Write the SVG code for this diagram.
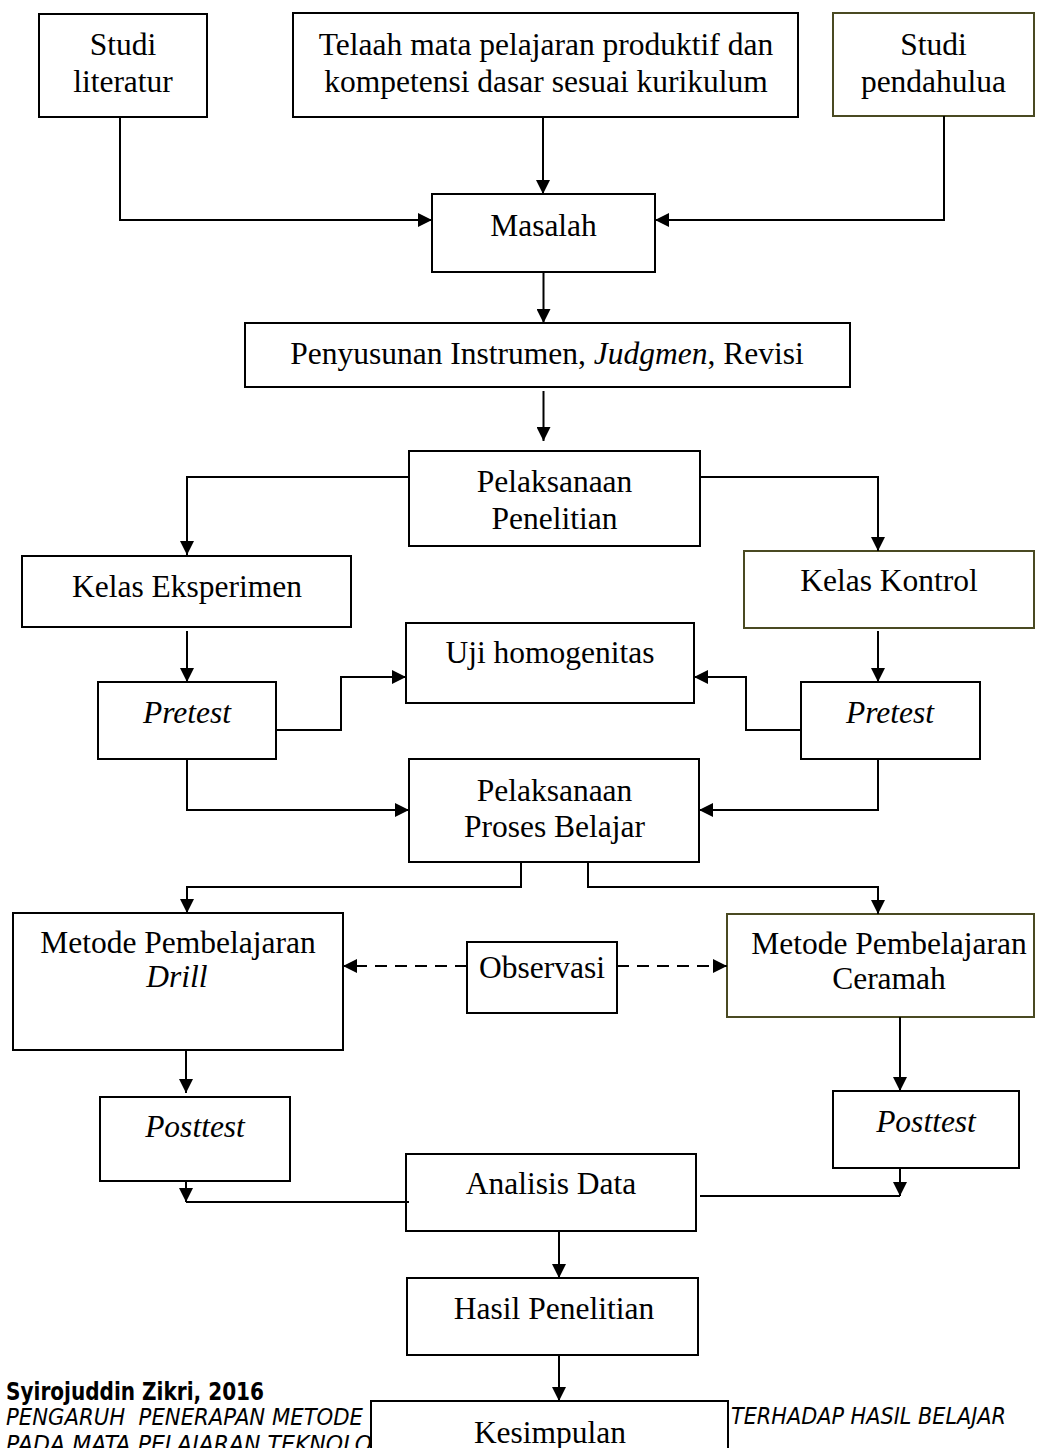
<svg xmlns="http://www.w3.org/2000/svg" width="1038" height="1448" viewBox="0 0 1038 1448">
<style>
.b{fill:#fff;stroke:#000;stroke-width:2}
.o{fill:#fff;stroke:#4a4a22;stroke-width:2}
.t{font-family:"Liberation Serif","Times New Roman",serif;font-size:31.5px;fill:#000;text-anchor:middle}
.i{font-style:italic}
.c{fill:none;stroke:#000;stroke-width:2}
.d{fill:none;stroke:#000;stroke-width:2;stroke-dasharray:12 8}
.f{font-family:"Liberation Sans Narrow","DejaVu Sans Condensed","DejaVu Sans",sans-serif;fill:#000}
</style>
<defs>
<marker id="ah" viewBox="0 0 14 14" refX="14" refY="7" markerWidth="14" markerHeight="14" markerUnits="userSpaceOnUse" orient="auto">
<path d="M0,0 L14,7 L0,14 z" fill="#000"/>
</marker>
</defs>

<g id="footer">
<text class="f" x="6" y="1400" font-size="25" font-weight="bold" textLength="258" lengthAdjust="spacingAndGlyphs">Syirojuddin Zikri, 2016</text>
<text class="f" x="6" y="1425" font-size="23" font-style="italic" xml:space="preserve" textLength="357" lengthAdjust="spacingAndGlyphs">PENGARUH  PENERAPAN METODE</text>
<text class="f" x="6" y="1452" font-size="23" font-style="italic" textLength="366" lengthAdjust="spacingAndGlyphs">PADA MATA PELAJARAN TEKNOLO</text>
<text class="f" x="731" y="1424" font-size="23" font-style="italic" textLength="275" lengthAdjust="spacingAndGlyphs">TERHADAP HASIL BELAJAR</text>
</g>

<g id="studi-literatur">
<rect class="b" x="39" y="14" width="168" height="103"/>
<text class="t" x="123" y="55">Studi</text>
<text class="t" x="123" y="92">literatur</text>
</g>
<g id="telaah">
<rect class="b" x="293" y="13" width="505" height="104"/>
<text class="t" x="546" y="55">Telaah mata pelajaran produktif dan</text>
<text class="t" x="546" y="92">kompetensi dasar sesuai kurikulum</text>
</g>
<g id="studi-pendahulua">
<rect class="o" x="833" y="13" width="201" height="103"/>
<text class="t" x="933.5" y="55">Studi</text>
<text class="t" x="933.5" y="92">pendahulua</text>
</g>
<g id="masalah">
<rect class="b" x="432" y="194" width="223" height="78"/>
<text class="t" x="543.5" y="236">Masalah</text>
</g>
<g id="penyusunan">
<rect class="b" x="245" y="323" width="605" height="64"/>
<text class="t" x="547" y="364">Penyusunan Instrumen, <tspan class="i">Judgmen</tspan>, Revisi</text>
</g>
<g id="pelaksanaan-penelitian">
<rect class="b" x="409" y="451" width="291" height="95"/>
<text class="t" x="554.5" y="492">Pelaksanaan</text>
<text class="t" x="554.5" y="529">Penelitian</text>
</g>
<g id="kelas-eksperimen">
<rect class="b" x="22" y="556" width="329" height="71"/>
<text class="t" x="187" y="597">Kelas Eksperimen</text>
</g>
<g id="kelas-kontrol">
<rect class="o" x="744" y="551" width="290" height="77"/>
<text class="t" x="889" y="591">Kelas Kontrol</text>
</g>
<g id="uji-homogenitas">
<rect class="b" x="406" y="623" width="288" height="80"/>
<text class="t" x="550" y="663">Uji homogenitas</text>
</g>
<g id="pretest-eksperimen">
<rect class="b" x="98" y="682" width="178" height="77"/>
<text class="t i" x="187" y="723">Pretest</text>
</g>
<g id="pretest-kontrol">
<rect class="b" x="801" y="682" width="179" height="77"/>
<text class="t i" x="890" y="723">Pretest</text>
</g>
<g id="pelaksanaan-proses">
<rect class="b" x="409" y="759" width="290" height="103"/>
<text class="t" x="554.5" y="801">Pelaksanaan</text>
<text class="t" x="554.5" y="837">Proses Belajar</text>
</g>
<g id="metode-drill">
<rect class="b" x="13" y="913" width="330" height="137"/>
<text class="t" x="178" y="953">Metode Pembelajaran</text>
<text class="t i" x="177" y="987">Drill</text>
</g>
<g id="observasi">
<rect class="b" x="467" y="942" width="150" height="71"/>
<text class="t" x="542" y="978" font-size="26">Observasi</text>
</g>
<g id="metode-ceramah">
<rect class="o" x="727" y="914" width="307" height="103"/>
<text class="t" x="889" y="954" font-size="29.5">Metode Pembelajaran</text>
<text class="t" x="889" y="989" font-size="29.5">Ceramah</text>
</g>
<g id="posttest-eksperimen">
<rect class="b" x="100" y="1097" width="190" height="84"/>
<text class="t i" x="195" y="1137">Posttest</text>
</g>
<g id="posttest-kontrol">
<rect class="b" x="833" y="1091" width="186" height="77"/>
<text class="t i" x="926" y="1132">Posttest</text>
</g>
<g id="analisis-data">
<rect class="b" x="406" y="1154" width="290" height="77"/>
<text class="t" x="551" y="1194">Analisis Data</text>
</g>
<g id="hasil-penelitian">
<rect class="b" x="407" y="1278" width="291" height="77"/>
<text class="t" x="554" y="1319">Hasil Penelitian</text>
</g>
<g id="kesimpulan">
<rect class="b" x="371" y="1401" width="357" height="70"/>
<text class="t" x="550" y="1443">Kesimpulan</text>
</g>

<g id="connectors">
<path class="c" d="M120,117 V220 H432" marker-end="url(#ah)"/>
<path class="c" d="M543,117 V194" marker-end="url(#ah)"/>
<path class="c" d="M944,116 V220 H655" marker-end="url(#ah)"/>
<path class="c" d="M543.5,272 V323" marker-end="url(#ah)"/>
<path class="c" d="M543.5,391 V441" marker-end="url(#ah)"/>
<path class="c" d="M409,477 H187 V555" marker-end="url(#ah)"/>
<path class="c" d="M700,477 H878 V551" marker-end="url(#ah)"/>
<path class="c" d="M187,631 V682" marker-end="url(#ah)"/>
<path class="c" d="M878,631 V682" marker-end="url(#ah)"/>
<path class="c" d="M276,730 H341 V677 H406" marker-end="url(#ah)"/>
<path class="c" d="M801,730 H746 V677 H694" marker-end="url(#ah)"/>
<path class="c" d="M187,759 V810 H409" marker-end="url(#ah)"/>
<path class="c" d="M878,759 V810 H699" marker-end="url(#ah)"/>
<path class="c" d="M521,862 V887 H187 V913" marker-end="url(#ah)"/>
<path class="c" d="M588,862 V887 H878 V914" marker-end="url(#ah)"/>
<path class="d" d="M467,966 H343" marker-end="url(#ah)"/>
<path class="d" d="M617,966 H727" marker-end="url(#ah)"/>
<path class="c" d="M186,1050 V1093" marker-end="url(#ah)"/>
<path class="c" d="M900,1017 V1091" marker-end="url(#ah)"/>
<path class="c" d="M186,1181 V1202" marker-end="url(#ah)"/>
<path class="c" d="M186,1202 H409"/>
<path class="c" d="M900,1168 V1196" marker-end="url(#ah)"/>
<path class="c" d="M700,1196 H900"/>
<path class="c" d="M559,1231 V1278" marker-end="url(#ah)"/>
<path class="c" d="M559,1355 V1401" marker-end="url(#ah)"/>
</g>
</svg>
